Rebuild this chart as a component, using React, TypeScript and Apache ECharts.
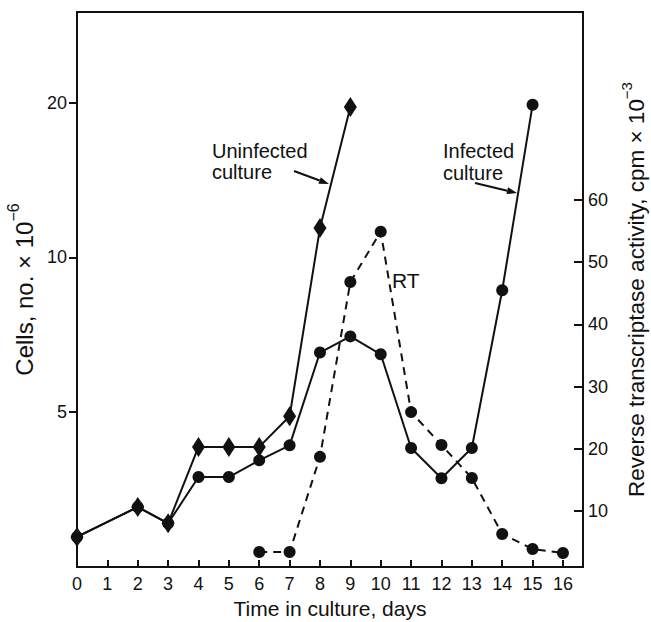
import React, { useEffect, useRef } from "react";
import * as echarts from "echarts";

const dayTicks = [0, 1, 2, 3, 4, 5, 6, 7, 8, 9, 10, 11, 12, 13, 14, 15, 16];
const uninfectedDays = [0, 2, 3, 4, 5, 6, 7, 8, 9];
const uninfectedCells = [2.86, 3.27, 3.04, 4.28, 4.28, 4.28, 4.91, 11.4, 19.6];
const infectedDays = [0, 2, 3, 4, 5, 6, 7, 8, 9, 10, 11, 12, 13, 14, 15];
const infectedCells = [2.86, 3.27, 3.04, 3.74, 3.74, 4.03, 4.31, 6.53, 7.02, 6.48, 4.26, 3.72, 4.26, 8.63, 19.8];
const rtDays = [6, 7, 8, 9, 10, 11, 12, 13, 14, 15, 16];
const rtActivity = [3.4, 3.4, 18.7, 46.8, 54.9, 25.9, 20.6, 15.3, 6.3, 3.9, 3.25];
const cellTicks = [5, 10, 20];
const rtTicks = [10, 20, 30, 40, 50, 60];

const FONT = "'Liberation Sans', Arial, Helvetica, sans-serif";
const INK = "#111";

function pairs(xs: number[], ys: number[]) {
  return xs.map((x, i) => [x, ys[i]]);
}

function arrow(x1: number, y1: number, x2: number, y2: number) {
  const dx = x2 - x1;
  const dy = y2 - y1;
  const len = Math.sqrt(dx * dx + dy * dy);
  const ux = dx / len;
  const uy = dy / len;
  const hl = 10;
  const hw = 3.5;
  const bx = x2 - ux * hl;
  const by = y2 - uy * hl;
  return [
    {
      type: "line",
      shape: { x1, y1, x2: bx, y2: by },
      style: { stroke: INK, lineWidth: 2 },
    },
    {
      type: "polygon",
      shape: {
        points: [
          [x2, y2],
          [bx - uy * hw, by + ux * hw],
          [bx + uy * hw, by - ux * hw],
        ],
      },
      style: { fill: INK },
    },
  ];
}

function nameStyle(size: number) {
  const lh = Math.round(size * 1.3);
  const sup = Math.round(size * 0.68);
  return {
    fontSize: size,
    fontFamily: FONT,
    color: INK,
    lineHeight: lh,
    rich: {
      t: { fontSize: size, fontFamily: FONT, color: INK, lineHeight: lh, verticalAlign: "bottom" },
      s: { fontSize: sup, fontFamily: FONT, color: INK, lineHeight: lh, verticalAlign: "top" },
    },
  };
}

export default function App() {
  const ref = useRef<HTMLDivElement>(null);
  useEffect(() => {
    if (!ref.current) return;
    const chart = echarts.init(ref.current, undefined, { renderer: "svg" });
    const axisName = (txt: string, sup: string) => `{t|${txt}}{s|${sup}}`;
    chart.setOption({
      animation: false,
      backgroundColor: "#fff",
      grid: {
        left: 77,
        top: 12,
        right: 68,
        bottom: 55,
        show: true,
        borderColor: INK,
        borderWidth: 2,
        containLabel: false,
        outerBoundsMode: "none",
      },
      xAxis: {
        type: "value",
        min: 0,
        max: 16.66,
        name: "Time in culture, days",
        nameLocation: "middle",
        nameGap: 31,
        nameTextStyle: { fontSize: 21, fontFamily: FONT, color: INK },
        axisLine: { show: true, lineStyle: { color: INK, width: 2 } },
        axisTick: { show: true, inside: true, length: 7, lineStyle: { color: INK, width: 2 }, customValues: dayTicks },
        axisLabel: { fontSize: 18, fontFamily: FONT, color: INK, margin: 8, customValues: dayTicks },
        splitLine: { show: false },
      },
      yAxis: [
        {
          type: "log",
          logBase: 10,
          min: 2.5,
          max: 30,
          position: "left",
          name: axisName("Cells, no. × 10", "−6"),
          nameLocation: "middle",
          nameGap: 37,
          nameRotate: 90,
          nameTextStyle: nameStyle(24),
          axisLine: { show: true, lineStyle: { color: INK, width: 2 } },
          axisTick: { show: true, inside: false, length: 8, lineStyle: { color: INK, width: 2 }, customValues: cellTicks },
          axisLabel: { fontSize: 18, fontFamily: FONT, color: INK, margin: 10, customValues: cellTicks },
          splitLine: { show: false },
          minorTick: { show: false },
        },
        {
          type: "value",
          min: 1,
          max: 90.2,
          position: "right",
          name: axisName("Reverse transcriptase activity, cpm × 10", "−3"),
          nameLocation: "middle",
          nameGap: 36,
          nameRotate: 90,
          nameTextStyle: nameStyle(22.5),
          axisLine: { show: true, lineStyle: { color: INK, width: 2 } },
          axisTick: { show: true, inside: true, length: 9, lineStyle: { color: INK, width: 2 }, customValues: rtTicks },
          axisLabel: { fontSize: 18, fontFamily: FONT, color: INK, margin: 5, customValues: rtTicks },
          splitLine: { show: false },
        },
      ],
      series: [
        {
          name: "Infected culture",
          type: "line",
          yAxisIndex: 0,
          data: pairs(infectedDays, infectedCells),
          symbol: "circle",
          symbolSize: 12,
          lineStyle: { color: INK, width: 2 },
          itemStyle: { color: INK },
          z: 2,
        },
        {
          name: "Uninfected culture",
          type: "line",
          yAxisIndex: 0,
          data: pairs(uninfectedDays, uninfectedCells),
          symbol: "diamond",
          symbolSize: [13, 20],
          lineStyle: { color: INK, width: 2 },
          itemStyle: { color: INK },
          z: 3,
        },
        {
          name: "RT",
          type: "line",
          yAxisIndex: 1,
          data: pairs(rtDays, rtActivity),
          symbol: "circle",
          symbolSize: 12,
          lineStyle: { color: INK, width: 2, type: [8, 6] },
          itemStyle: { color: INK },
          z: 2,
        },
      ],
      graphic: [
        {
          type: "text",
          left: 212,
          top: 140,
          style: { text: "Uninfected\nculture", font: `20px ${FONT}`, fill: INK, lineHeight: 21 },
        },
        {
          type: "text",
          left: 443,
          top: 140,
          style: { text: "Infected\nculture", font: `20px ${FONT}`, fill: INK, lineHeight: 22 },
        },
        {
          type: "text",
          left: 392,
          top: 270,
          style: { text: "RT", font: `21px ${FONT}`, fill: INK },
        },
        ...arrow(294, 171, 329, 184),
        ...arrow(475, 183, 517, 193),
      ],
    });
    return () => chart.dispose();
  }, []);
  return (
    <div
      ref={ref}
      style={{ position: "absolute", left: 0, top: 0, width: 651, height: 622, background: "#fff" }}
    />
  );
}
